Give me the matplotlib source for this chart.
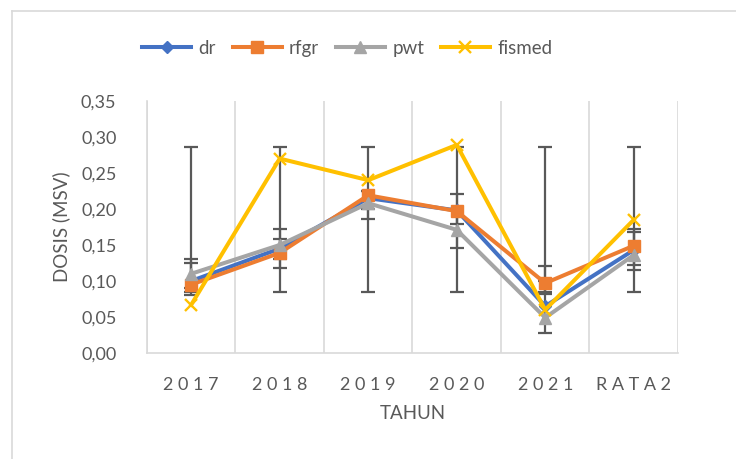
import matplotlib
matplotlib.use("Agg")
import matplotlib.pyplot as plt
from matplotlib.lines import Line2D
import numpy as np

plt.rcParams['font.family'] = ['Lato', 'DejaVu Sans']

# data
years = ["2017", "2018", "2019", "2020", "2021", "RATA2"]
dr = [0.100, 0.145, 0.215, 0.198, 0.065, 0.143]
rfgr = [0.095, 0.139, 0.219, 0.197, 0.097, 0.149]
pwt = [0.110, 0.150, 0.208, 0.171, 0.049, 0.136]
fismed = [0.067, 0.270, 0.240, 0.289, 0.060, 0.185]

# error bars (low / high ends)
err_big_lo = [0.085, 0.085, 0.085, 0.085, 0.085, 0.085]
err_big_hi = [0.286, 0.286, 0.286, 0.286, 0.286, 0.286]
err_a_lo = [0.080, 0.118, 0.186, 0.146, 0.028, 0.115]
err_a_hi = [0.130, 0.172, 0.225, 0.221, 0.121, 0.172]
err_b_lo = [0.090, 0.130, 0.200, 0.179, 0.082, 0.122]
err_b_hi = [0.125, 0.158, 0.225, 0.200, 0.100, 0.168]

grey = "#595959"
fig = plt.figure(figsize=(7.36, 4.59), dpi=100)
ax = fig.add_axes([0.1997, 0.231, 0.7215, 0.549])

x = np.arange(len(years))

def ebar(lo, hi):
    vals = [(l + h) / 2 for l, h in zip(lo, hi)]
    yerr = [[v - l for v, l in zip(vals, lo)], [h - v for v, h in zip(vals, hi)]]
    ax.errorbar(x, vals, yerr=yerr, fmt='none', ecolor=grey, elinewidth=1.6,
                capsize=5, capthick=1.6, zorder=2)

ebar(err_big_lo, err_big_hi)
ebar(err_a_lo, err_a_hi)
ebar(err_b_lo, err_b_hi)

series = [
    ("dr", dr, "#4472C4", "D", 6),
    ("rfgr", rfgr, "#ED7D31", "s", 9),
    ("pwt", pwt, "#A5A5A5", "^", 8),
    ("fismed", fismed, "#FFC000", "x", 9),
]
handles = []
for name, vals, col, mk, ms in series:
    ax.plot(x, vals, color=col, lw=2.9, marker=mk, ms=ms, mew=1.7 if mk == "x" else 1,
            mec=col, mfc=col, zorder=3)
    handles.append(Line2D([], [], color=col, lw=2.9, marker=mk, ms=ms, mec=col, mfc=col,
                          mew=1.7 if mk == "x" else 1))

ax.set_xlim(-0.5, len(years) - 0.5)
ax.set_ylim(0, 0.35)
ax.set_yticks(np.arange(0, 0.351, 0.05))
ax.set_yticklabels([("%.2f" % v).replace(".", ",") for v in np.arange(0, 0.351, 0.05)])
ax.set_xticks(x)
ax.set_xticklabels([" ".join(y) for y in years])
ax.tick_params(length=0, labelsize=13, labelcolor=grey, pad=17)
ax.tick_params(axis='y', pad=22)

for b in np.arange(-0.5, len(years), 1.0):
    ax.axvline(b, color="#D9D9D9", lw=1.2, zorder=0)
for s in ["top", "right"]:
    ax.spines[s].set_visible(False)
for s in ["left", "bottom"]:
    ax.spines[s].set_color("#D9D9D9")
    ax.spines[s].set_linewidth(1.2)

ax.set_xlabel("TAHUN", fontsize=13.5, color=grey, labelpad=9)
ax.set_ylabel("DOSIS (MSV)", fontsize=13.5, color=grey, labelpad=8)

fig.legend(handles, [s[0] for s in series], loc="center", bbox_to_anchor=(0.472, 0.895),
           ncol=4, frameon=False, fontsize=13.5, labelcolor=grey, handlelength=2.6,
           handletextpad=0.4, columnspacing=0.9)

# chart area border
fig.add_artist(Line2D([12 / 736, 12 / 736], [0, 1 - 11 / 459], transform=fig.transFigure,
                      color="#D9D9D9", lw=1.2))
fig.add_artist(Line2D([12 / 736, 1], [1 - 11 / 459, 1 - 11 / 459], transform=fig.transFigure,
                      color="#D9D9D9", lw=1.2))

fig.savefig("out.png", dpi=100)
